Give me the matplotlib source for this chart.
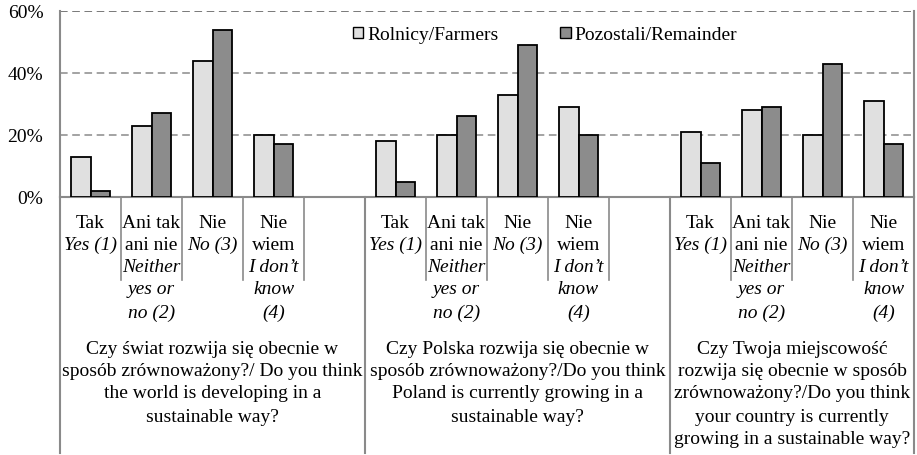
import matplotlib
matplotlib.use("Agg")
import matplotlib.pyplot as plt
import numpy as np

# ---- data ----
groups = [
    ["Czy świat rozwija się obecnie w", "sposób zrównoważony?/ Do you think",
     "the world is developing in a", "sustainable way?"],
    ["Czy Polska rozwija się obecnie w", "sposób zrównoważony?/Do you think",
     "Poland is currently growing in a", "sustainable way?"],
    ["Czy Twoja miejscowość", "rozwija się obecnie w sposób",
     "zrównoważony?/Do you think", "your country is currently",
     "growing in a sustainable way?"],
]
cat_labels = [
    [("Tak", "normal"), ("Yes (1)", "italic")],
    [("Ani tak", "normal"), ("ani nie", "normal"), ("Neither", "italic"),
     ("yes or", "italic"), ("no (2)", "italic")],
    [("Nie", "normal"), ("No (3)", "italic")],
    [("Nie", "normal"), ("wiem", "normal"), ("I don’t", "italic"),
     ("know", "italic"), ("(4)", "italic")],
]
series_names = ["Rolnicy/Farmers", "Pozostali/Remainder"]
farmers = [13, 23, 44, 20, 18, 20, 33, 29, 21, 28, 20, 31]
remainder = [2, 27, 54, 17, 5, 26, 49, 20, 11, 29, 43, 17]
yticks = [0, 20, 40, 60]
ytick_labels = ["0%", "20%", "40%", "60%"]

# ---- layout ----
plt.rcParams["font.family"] = ["Liberation Serif", "DejaVu Serif"]
FS = 14
W, H = 917, 455
fig = plt.figure(figsize=(W / 100, H / 100), dpi=100)
ax_l, ax_r, ax_t, ax_b = 60, 914, 11, 197
ax = fig.add_axes([ax_l / W, (H - ax_b) / H, (ax_r - ax_l) / W, (ax_b - ax_t) / H])

slots_per_group = [5, 5, 4]
ncat = len(cat_labels)
starts = np.cumsum([0] + slots_per_group[:-1])
pos = np.concatenate([s + np.arange(ncat) for s in starts])
total = sum(slots_per_group)

bw = 0.32
c_f, c_r = "#e0e0e0", "#8c8c8c"
ax.bar(pos - bw / 2, farmers, bw, color=c_f, edgecolor="black", linewidth=1.3,
       label=series_names[0], zorder=3)
ax.bar(pos + bw / 2, remainder, bw, color=c_r, edgecolor="black", linewidth=1.3,
       label=series_names[1], zorder=3)

ax.set_xlim(-0.5, total - 0.5)
ax.set_ylim(0, 60)
ax.set_yticks(yticks)
ax.set_yticklabels(ytick_labels, fontsize=FS)
ax.tick_params(axis="y", length=0, pad=12)
ax.set_xticks([])
for y in yticks[1:]:
    ax.axhline(y, color="#555555" if y == 60 else "#8a8a8a", lw=1.1,
               dashes=(5, 3), zorder=1)
ax.spines["top"].set_visible(False)
for s in ["left", "right", "bottom"]:
    ax.spines[s].set_color("#8a8a8a")
    ax.spines[s].set_linewidth(1.5)

# separators below axis
trans = ax.get_xaxis_transform()
ax_h = ax_b - ax_t
short_y = -(280 - ax_b) / ax_h
long_y = -(453 - ax_b) / ax_h
for gi, s in enumerate(starts):
    for k in range(1, slots_per_group[gi]):
        x = s + k - 0.5
        ax.plot([x, x], [0, short_y], transform=trans, color="#8a8a8a",
                lw=1.2, clip_on=False)
for b in list(starts) + [total]:
    x = b - 0.5
    ax.plot([x, x], [0, long_y], transform=trans, color="#8a8a8a",
            lw=1.5, clip_on=False)

# category labels
cat_offsets = [26, 48, 71, 93, 116]
for p, ci in zip(pos, list(range(ncat)) * len(groups)):
    for li, (txt, style) in enumerate(cat_labels[ci]):
        ax.annotate(txt, xy=(p, 0), xycoords=("data", "axes fraction"),
                    xytext=(0, -cat_offsets[li]), textcoords="offset pixels",
                    ha="center", va="center", fontsize=FS, style=style,
                    annotation_clip=False)

# group titles
title_offsets = [152, 175, 197, 220, 242]
for gi, lines in enumerate(groups):
    cx = starts[gi] + (slots_per_group[gi] - 1) / 2
    for li, txt in enumerate(lines):
        ax.annotate(txt, xy=(cx, 0), xycoords=("data", "axes fraction"),
                    xytext=(0, -title_offsets[li]), textcoords="offset pixels",
                    ha="center", va="center", fontsize=FS,
                    annotation_clip=False)

leg = ax.legend(loc="center", bbox_to_anchor=((545 - ax_l) / (ax_r - ax_l), (ax_b - 35) / ax_h),
                ncol=2, frameon=False, fontsize=FS, handlelength=0.52,
                handleheight=0.52, handletextpad=0.2, columnspacing=3.2,
                borderpad=0)
for h in leg.legend_handles:
    h.set_linewidth(1.0)

fig.savefig("out.png", dpi=100)
